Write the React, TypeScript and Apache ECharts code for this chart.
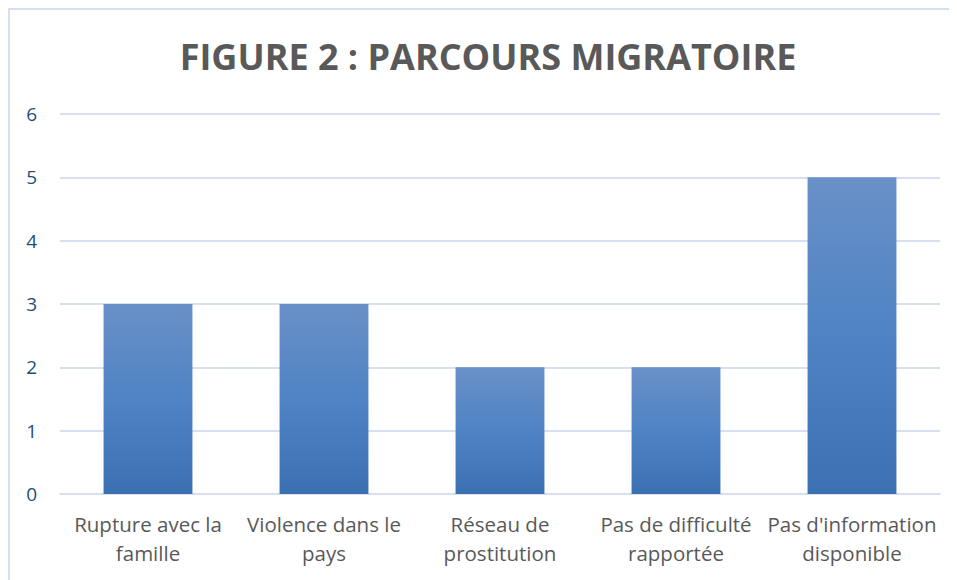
import React, { useEffect, useRef } from "react";
import * as echarts from "echarts";

const categories = [
  "Rupture avec la\nfamille",
  "Violence dans le\npays",
  "Réseau de\nprostitution",
  "Pas de difficulté\nrapportée",
  "Pas d'information\ndisponible",
];
const values = [3, 3, 2, 2, 5];
const titleText = "FIGURE 2 : PARCOURS MIGRATOIRE";

export default function App() {
  const ref = useRef<HTMLDivElement>(null);
  useEffect(() => {
    document.body.style.overflow = "hidden";
    const chart = echarts.init(ref.current!, undefined, { renderer: "svg" });
    chart.setOption({
      animation: false,
      backgroundColor: "#ffffff",
      graphic: [
        {
          type: "text",
          x: 478,
          y: 46,
          style: {
            text: titleText,
            fontFamily: "Open Sans",
            fontWeight: "bold",
            fontSize: 36,
            fill: "#595959",
            textAlign: "center",
            textVerticalAlign: "middle",
          },
        },
      ],
      grid: { left: 50, right: 17, top: 104, bottom: 86 },
      xAxis: {
        type: "category",
        data: categories,
        axisLine: { lineStyle: { color: "#d6e0f1", width: 2 } },
        axisTick: { show: false },
        axisLabel: {
          color: "#595959",
          fontFamily: "Open Sans",
          fontSize: 20.5,
          lineHeight: 29,
          margin: 15,
          interval: 0,
        },
      },
      yAxis: {
        type: "value",
        min: 0,
        max: 6,
        interval: 1,
        axisLine: { show: false },
        axisTick: { show: false },
        splitLine: { lineStyle: { color: "#d6e0f1", width: 2 } },
        axisLabel: {
          color: "#1f4e79",
          fontFamily: "Open Sans",
          fontSize: 19,
          margin: 23,
        },
      },
      series: [
        {
          type: "bar",
          data: values,
          barWidth: "50.5%",
          itemStyle: {
            color: new echarts.graphic.LinearGradient(0, 0, 0, 1, [
              { offset: 0, color: "#6a90c7" },
              { offset: 0.5, color: "#4e83c4" },
              { offset: 1, color: "#3b70b3" },
            ]),
          },
        },
      ],
    });
    return () => chart.dispose();
  }, []);
  return (
    <div
      ref={ref}
      style={{
        width: 949,
        height: 572,
        borderLeft: "2px solid #d6e0f1",
        borderTop: "2px solid #d6e0f1",
        boxSizing: "border-box",
      }}
    />
  );
}
